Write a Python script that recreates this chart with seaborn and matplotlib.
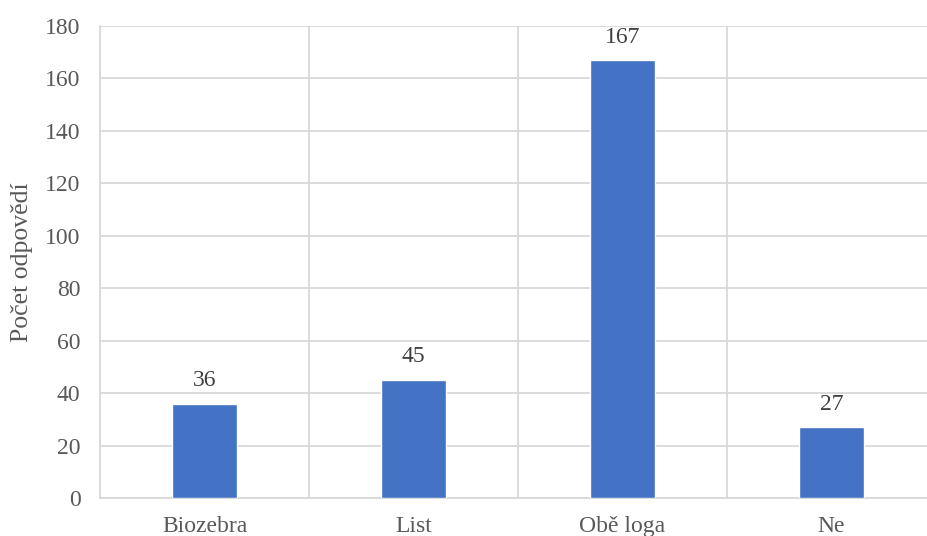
import matplotlib
matplotlib.use("Agg")
import matplotlib.pyplot as plt
import seaborn as sns
import pandas as pd
from matplotlib.ticker import FixedLocator

categories = ["Biozebra", "List", "Obě loga", "Ne"]
counts = [36, 45, 167, 27]
y_ticks = [0, 20, 40, 60, 80, 100, 120, 140, 160, 180]
y_label = "Počet odpovědí"

df = pd.DataFrame({"kategorie": categories, "pocet": counts})

sns.set_theme(style="white")
plt.rcParams["font.family"] = ["Liberation Serif", "DejaVu Serif"]

bar_color = "#4472C4"
grid_color = "#D9D9D9"
text_color = "#595959"
fs = 17

fig = plt.figure(figsize=(9.28, 5.36), dpi=100)
W, H = 928, 536
left, right, top, bottom = 100, 936, 26, 498
ax = fig.add_axes([left / W, 1 - bottom / H, (right - left) / W, (bottom - top) / H])

sns.barplot(data=df, x="kategorie", y="pocet", color=bar_color, width=0.31,
            saturation=1, ax=ax, zorder=3)

ax.set_ylim(0, 180)
ax.set_xlim(-0.5, len(categories) - 0.5)
ax.yaxis.set_major_locator(FixedLocator(y_ticks))
ax.xaxis.set_minor_locator(FixedLocator([i - 0.5 for i in range(len(categories) + 1)]))
ax.grid(axis="y", which="major", color=grid_color, linewidth=1.3, zorder=0)
ax.grid(axis="x", which="minor", color=grid_color, linewidth=1.3, zorder=0)
ax.grid(axis="x", which="major", visible=False)
ax.set_axisbelow(True)

for s in ["top", "right"]:
    ax.spines[s].set_visible(False)
for s in ["left", "bottom"]:
    ax.spines[s].set_color(grid_color)
    ax.spines[s].set_linewidth(1.3)

ax.tick_params(axis="both", which="both", length=0, labelsize=fs, colors=text_color)
ax.tick_params(axis="x", pad=13)
ax.tick_params(axis="y", pad=14)
ax.set_xlabel("")
ax.set_ylabel(y_label, fontsize=18.5, color=text_color, labelpad=9)

for i, v in enumerate(counts):
    ax.annotate(str(v), (i, v), xytext=(0, 9), textcoords="offset points",
                ha="center", va="bottom", fontsize=fs, color="#404040")

fig.savefig("out.png", dpi=100)
